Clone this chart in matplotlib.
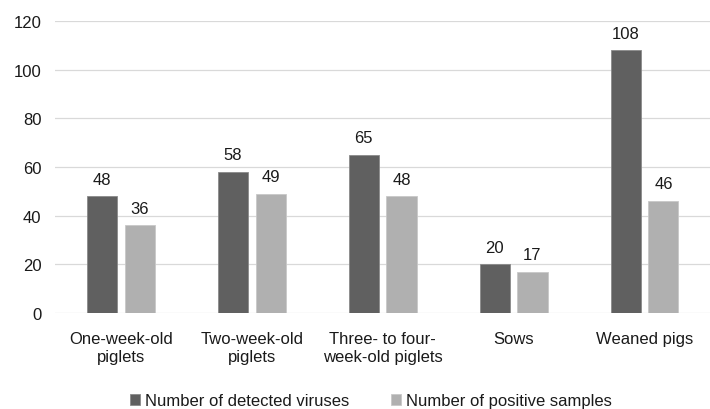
import numpy as np
import matplotlib.pyplot as plt

plt.rcParams['font.family'] = ['Liberation Sans', 'DejaVu Sans']

categories = ['One-week-old\npiglets', 'Two-week-old\npiglets', 'Three- to four-\nweek-old piglets', 'Sows', 'Weaned pigs']
viruses = [48, 58, 65, 20, 108]
positives = [36, 49, 48, 17, 46]

dark = '#606060'
light = '#b0b0b0'
txt = '#1a1a1a'

fig = plt.figure(figsize=(7.1, 4.1), dpi=100)
ax = fig.add_axes([0.078, 0.234, 0.922, 0.712])

x = np.arange(len(categories))
w = 0.23
gap = 0.058
b1 = ax.bar(x - (w + gap) / 2, viruses, w, color=dark, edgecolor='#8a8a8a', linewidth=0.6,
            label='Number of detected viruses', zorder=3)
b2 = ax.bar(x + (w + gap) / 2, positives, w, color=light, edgecolor='#c8c8c8', linewidth=0.6,
            label='Number of positive samples', zorder=3)

for bars in (b1, b2):
    ax.bar_label(bars, padding=7, fontsize=12, color=txt)

ax.set_ylim(0, 120)
ax.set_yticks(range(0, 121, 20))
ax.set_xlim(-0.5, len(categories) - 0.5)
ax.set_xticks(x)
ax.set_xticklabels(categories, fontsize=12, color=txt)
ax.tick_params(axis='y', labelsize=12, labelcolor=txt, length=0, pad=10)
ax.tick_params(axis='x', length=0, pad=13)
ax.grid(axis='y', color='#d9d9d9', linewidth=0.9, zorder=0)
for s in ax.spines.values():
    s.set_visible(False)

fig.legend(handles=[b1, b2], loc='center', bbox_to_anchor=(0.523, 0.02), ncol=2,
           frameon=False, fontsize=12, handlelength=0.6, handleheight=0.6,
           columnspacing=2.5, handletextpad=0.3, labelcolor=txt)

fig.savefig('out.png', dpi=100)
